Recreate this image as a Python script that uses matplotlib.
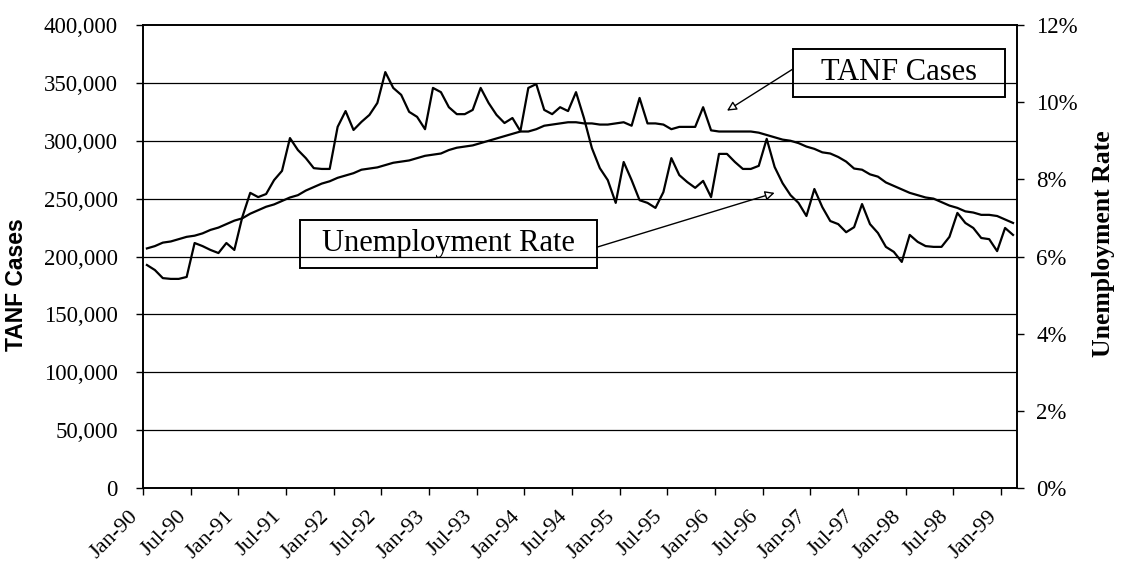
import numpy as np
import matplotlib
matplotlib.use('Agg')
import matplotlib.pyplot as plt
from matplotlib.patches import Rectangle
from matplotlib.ticker import FuncFormatter
from matplotlib.transforms import ScaledTranslation

# Monthly data, Jan-90 .. Feb-99
months = ['Jan', 'Feb', 'Mar', 'Apr', 'May', 'Jun', 'Jul', 'Aug', 'Sep', 'Oct', 'Nov', 'Dec']

tanf_cases = [
    207, 209, 212, 213, 215, 217, 218, 220, 223, 225, 228, 231,
    233, 237, 240, 243, 245, 248, 251, 253, 257, 260, 263, 265,
    268, 270, 272, 275, 276, 277, 279, 281, 282, 283, 285, 287,
    288, 289, 292, 294, 295, 296, 298, 300, 302, 304, 306, 308,
    308, 310, 313, 314, 315, 316, 316, 315, 315, 314, 314, 315,
    316, 313, 337, 315, 315, 314, 310, 312, 312, 312, 329, 309,
    308, 308, 308, 308, 308, 307, 305, 303, 301, 300, 298, 295,
    293, 290, 289, 286, 282, 276, 275, 271, 269, 264, 261, 258,
    255, 253, 251, 250, 247, 244, 242, 239, 238, 236, 236, 235,
    232, 229,
]
tanf_cases = [v * 1000 for v in tanf_cases]

unemp_rate = [
    5.78, 5.65, 5.44, 5.42, 5.42, 5.47, 6.35, 6.27, 6.17, 6.09, 6.35, 6.17,
    7.02, 7.65, 7.54, 7.62, 7.98, 8.22, 9.07, 8.76, 8.55, 8.29, 8.27, 8.27,
    9.36, 9.77, 9.28, 9.49, 9.67, 9.98, 10.78, 10.37, 10.19, 9.75, 9.62, 9.30,
    10.37, 10.26, 9.87, 9.69, 9.69, 9.80, 10.37, 9.98, 9.67, 9.46, 9.59, 9.25,
    10.37, 10.47, 9.80, 9.69, 9.87, 9.77, 10.26, 9.59, 8.81, 8.29, 7.98, 7.39,
    8.45, 7.98, 7.46, 7.39, 7.26, 7.67, 8.55, 8.11, 7.93, 7.78, 7.96, 7.54,
    8.66, 8.66, 8.45, 8.27, 8.27, 8.35, 9.05, 8.32, 7.90, 7.59, 7.39, 7.05,
    7.75, 7.28, 6.92, 6.84, 6.63, 6.76, 7.36, 6.84, 6.61, 6.25, 6.12, 5.86,
    6.56, 6.38, 6.27, 6.25, 6.25, 6.51, 7.13, 6.87, 6.74, 6.48, 6.45, 6.14,
    6.74, 6.56,
]

n = len(tanf_cases)
x = np.arange(n) + 0.5
tick_pos = np.arange(0, n, 6)
tick_labels = [f'{months[p % 12]}-{90 + p // 12:02d}' for p in tick_pos]

SERIF = ['Liberation Serif', 'DejaVu Serif']
plt.rcParams['font.family'] = SERIF

fig = plt.figure(figsize=(11.23, 5.78), dpi=100)
ax = fig.add_axes([0.1273, 0.1557, 0.7783, 0.8010])
ax2 = ax.twinx()

ax.plot(x, tanf_cases, color='black', lw=1.6, zorder=3)
ax2.plot(x, unemp_rate, color='black', lw=1.6, zorder=3)

ax.set_yticks(np.arange(0, 400001, 50000))
ax2.set_yticks(np.arange(0, 13, 2))
ax.yaxis.set_major_formatter(FuncFormatter(lambda v, p: f'{int(v):,}'))
ax2.yaxis.set_major_formatter(FuncFormatter(lambda v, p: f'{int(v)}%'))

ax.set_xticks(tick_pos)
ax.set_xticklabels([])
# labels sit a little left of their tick marks, as in the original
offset = ScaledTranslation(-0.14, -0.19, fig.dpi_scale_trans)
for p, lab in zip(tick_pos, tick_labels):
    ax.text(p, 0, lab, transform=ax.get_xaxis_transform() + offset,
            rotation=45, ha='right', va='top', rotation_mode='anchor',
            fontsize=16, clip_on=False)

ax.set_xlim(0, n)
ax.set_ylim(0, 400000)
ax2.set_ylim(0, 12)

for a in (ax, ax2):
    a.tick_params(which='major', direction='out', length=5, width=1, colors='black')
    for s in a.spines.values():
        s.set_linewidth(1.2)
ax.tick_params(axis='y', pad=13, labelsize=16.5)
ax2.tick_params(axis='y', pad=9, labelsize=16.5)

for v in np.arange(50000, 400000, 50000):
    ax.axhline(v, color='black', lw=0.9, zorder=1)

ax.set_ylabel('TANF Cases', fontsize=16.5, fontweight='bold',
              family=['Liberation Sans', 'DejaVu Sans'])
ax.yaxis.set_label_coords(-0.131, 0.44)
ax2.set_ylabel('Unemployment Rate', fontsize=18.5, fontweight='bold')
ax2.yaxis.set_label_coords(1.086, 0.527)

# callout boxes
ax.add_patch(Rectangle((81.8, 337800), 26.7, 41200, fill=False, ec='black', lw=1.4, zorder=4))
ax.text(95.2, 359000, 'TANF Cases', fontsize=22, ha='center', va='center', zorder=5)
ax.add_patch(Rectangle((19.8, 190000), 37.3, 41500, fill=False, ec='black', lw=1.4, zorder=4))
ax.text(38.4, 211000, 'Unemployment Rate', fontsize=22, ha='center', va='center', zorder=5)

arrow = dict(arrowstyle='-|>', fc='white', ec='black', lw=1.0, mutation_scale=14,
             shrinkA=0, shrinkB=0)
ax.annotate('', xy=(73.5, 326000), xytext=(81.8, 362000), arrowprops=arrow, zorder=5)
ax.annotate('', xy=(79.5, 255000), xytext=(57.1, 208000), arrowprops=arrow, zorder=5)

fig.savefig('out.png', dpi=100)
